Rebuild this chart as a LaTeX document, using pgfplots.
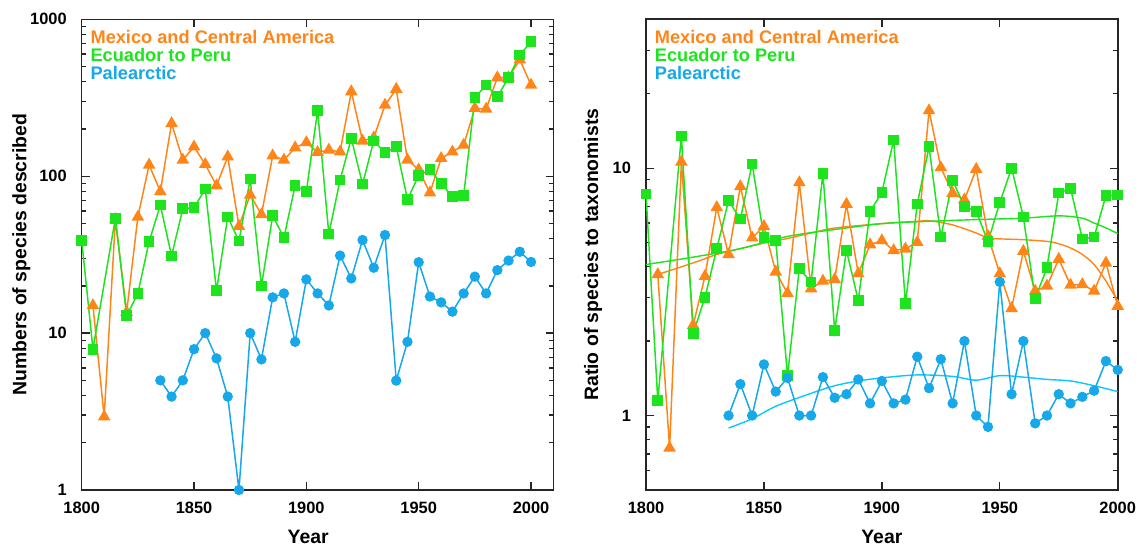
\documentclass[border=0pt]{standalone}
\usepackage{fontspec}
\setmainfont{Liberation Sans}
\usepackage{pgfplots}
\usepackage{pgfplotstable}
\pgfplotsset{compat=1.18}

\definecolor{mexorange}{RGB}{255,133,25}
\definecolor{ecugreen}{RGB}{30,228,30}
\definecolor{palblue}{RGB}{22,168,232}
\definecolor{trendblue}{RGB}{10,200,250}

% left panel: species described per 5-year interval
\pgfplotstableread{
year  n
1805  15
1810  2.93
1815  53
1820  13.6
1825  55
1830  118
1835  80
1840  217
1845  127
1850  154
1855  119
1860  87
1865  133
1870  48
1875  76
1880  57
1885  135
1890  127
1895  152
1900  164
1905  142
1910  147
1915  143
1920  346
1925  168
1930  176
1935  284
1940  359
1945  127
1950  110
1955  78.5
1960  130
1965  143
1970  158
1975  271
1980  268
1985  425
1990  425
1995  553
2000  381
}\mexcount
\pgfplotstableread{
year  n
1800  39
1805  7.9
1815  54
1820  12.9
1825  17.9
1830  38.3
1835  65.5
1840  31
1845  62
1850  63
1855  83
1860  18.6
1865  55
1870  38.6
1875  96
1880  20
1885  56
1890  40.6
1895  87
1900  80
1905  262
1910  42.8
1915  94.6
1920  174
1925  89
1930  168
1935  141
1940  154
1945  71.2
1950  101
1955  110
1960  90
1965  74
1970  75
1975  317
1980  381
1985  321
1990  425
1995  592
2000  720
}\ecucount
\pgfplotstableread{
year  n
1835  5.0
1840  3.94
1845  5.0
1850  7.9
1855  10
1860  6.9
1865  3.94
1870  1
1875  10
1880  6.8
1885  16.9
1890  17.9
1895  8.8
1900  22
1905  17.9
1910  15
1915  31.2
1920  22.3
1925  39.2
1930  26.1
1935  42.2
1940  4.98
1945  8.8
1950  28.3
1955  17.1
1960  15.7
1965  13.7
1970  17.9
1975  22.9
1980  17.9
1985  25.2
1990  29
1995  33
2000  28.4
}\palcount

% right panel: ratio of species to taxonomists
\pgfplotstableread{
year  r
1805  3.72
1810  0.74
1815  10.6
1820  2.32
1825  3.66
1830  6.94
1835  4.48
1840  8.44
1845  5.23
1850  5.82
1855  3.81
1860  3.12
1865  8.75
1870  3.26
1875  3.5
1880  3.55
1885  7.16
1890  3.75
1895  4.91
1900  5.1
1905  4.65
1910  4.72
1915  5.02
1920  17.1
1925  10.06
1930  7.93
1935  7.46
1940  9.9
1945  5.31
1950  3.75
1955  2.71
1960  4.62
1965  3.19
1970  3.34
1975  4.29
1980  3.37
1985  3.39
1990  3.19
1995  4.14
2000  2.77
}\mexratio
\pgfplotstableread{
year  r
1800  7.86
1805  1.15
1815  13.5
1820  2.15
1825  3.0
1830  4.73
1835  7.39
1840  6.23
1845  10.4
1850  5.26
1855  5.1
1860  1.45
1865  3.92
1870  3.47
1875  9.55
1880  2.21
1885  4.65
1890  2.92
1895  6.69
1900  7.98
1905  13.0
1910  2.83
1915  7.16
1920  12.2
1925  5.27
1930  8.92
1935  7.01
1940  6.69
1945  5.04
1950  7.27
1955  10.0
1960  6.35
1965  2.97
1970  3.96
1975  7.93
1980  8.3
1985  5.18
1990  5.27
1995  7.74
2000  7.8
}\ecuratio
\pgfplotstableread{
year  r
1835  1.0
1840  1.34
1845  1.0
1850  1.61
1855  1.25
1860  1.42
1865  1.0
1870  1.0
1875  1.43
1880  1.18
1885  1.22
1890  1.40
1895  1.12
1900  1.38
1905  1.12
1910  1.16
1915  1.73
1920  1.29
1925  1.69
1930  1.12
1935  2.0
1940  1.0
1945  0.90
1950  3.47
1955  1.22
1960  2.0
1965  0.93
1970  1.0
1975  1.22
1980  1.12
1985  1.19
1990  1.26
1995  1.66
2000  1.53
}\palratio

% smoothed trends (right panel)
\pgfplotstableread{
year  r
1805  3.72
1820  4.14
1830  4.48
1840  4.73
1850  4.98
1860  5.2
1870  5.47
1880  5.73
1900  5.97
1915  6.1
1920  6.13
1930  5.9
1940  5.47
1945  5.22
1950  5.18
1960  5.14
1970  5.06
1975  4.95
1980  4.76
1985  4.48
1990  4.08
1995  3.5
2000  2.9
}\mextrend
\pgfplotstableread{
year  r
1800  4.08
1820  4.37
1840  4.73
1860  5.3
1880  5.65
1900  5.97
1920  6.1
1940  6.2
1960  6.28
1975  6.42
1985  6.28
1990  6.0
1995  5.74
2000  5.44
}\ecutrend
\pgfplotstableread{
year  r
1835  0.89
1845  0.97
1855  1.09
1870  1.23
1880  1.32
1890  1.38
1900  1.42
1915  1.46
1930  1.44
1940  1.39
1950  1.45
1960  1.43
1970  1.40
1980  1.38
1990  1.32
2000  1.25
}\paltrend

\pgfplotsset{
  mypanel/.style={
    scale only axis,
    height=235.35pt,
    xtick={1800,1850,...,2000},
    tick align=inside,
    major tick length=4pt,
    minor tick length=2.2pt,
    axis line style={line width=0.8pt, black!85},
    every tick/.style={line width=0.7pt, black!85},
    /pgf/number format/1000 sep={},
    /pgf/number format/assume math mode=true,
    tick label style={font=\bfseries\fontsize{8.2}{9}\selectfont},
    xticklabel style={yshift=-2.6pt},
    yticklabel style={xshift=-4pt},
    label style={font=\bfseries\fontsize{9.7}{11}\selectfont},
    xlabel={Year},
    clip=false,
  },
  mexline/.style={mexorange, line width=0.75pt, mark=triangle*, mark size=2.9pt, mark options={solid}},
  eculine/.style={ecugreen, line width=0.75pt, mark=square*, mark size=2.3pt, mark options={solid}},
  palline/.style={palblue, line width=0.75pt, mark=*, mark size=2.2pt, mark options={solid}},
}

\newcommand{\panellegend}{%
  \node[anchor=north west, align=left, inner sep=0pt,
        font=\bfseries\fontsize{9.1}{9}\selectfont]
    at (axis description cs:0.018,0.978)
    {\textcolor{mexorange}{Mexico and Central America}\\
     \textcolor{ecugreen}{Ecuador to Peru}\\
     \textcolor{palblue}{Palearctic}};}

\begin{document}
\begin{tikzpicture}
\path[use as bounding box] (-40.85pt,-28pt) rectangle (528.65pt,245pt);

\begin{axis}[mypanel,
  ymode=log,
  at={(0,0)}, anchor=south west,
  width=235.9pt,
  xmin=1800, xmax=2010,
  ymin=1, ymax=1000,
  ytick={1,10,100,1000}, yticklabels={1,10,100,1000},
  minor ytick={2,3,4,5,6,7,8,9,20,30,40,50,60,70,80,90,200,300,400,500,600,700,800,900},
  ylabel={Numbers of species described},
  ylabel style={at={(axis description cs:-0.128,0.5)}, anchor=center},
  xlabel style={at={(axis description cs:0.48,0)}, anchor=center, yshift=-23.5pt},
]
\addplot[mexline] table[x=year, y=n] {\mexcount};
\addplot[eculine] table[x=year, y=n] {\ecucount};
\addplot[palline] table[x=year, y=n] {\palcount};
\panellegend
\end{axis}

\begin{axis}[mypanel,
  ymode=log,
  at={(282.15pt,0)}, anchor=south west,
  width=235.85pt,
  xmin=1800, xmax=2000,
  ymin=0.5, ymax=40,
  ytick={1,10}, yticklabels={1,10},
  minor ytick={0.6,0.7,0.8,0.9,2,3,4,5,6,7,8,9,20,30},
  ylabel={Ratio of species to taxonomists},
  ylabel style={at={(axis description cs:-0.112,0.5)}, anchor=center},
  xlabel style={at={(axis description cs:0.5,0)}, anchor=center, yshift=-23.5pt},
]
\addplot[mexorange, line width=0.7pt, smooth] table[x=year, y=r] {\mextrend};
\addplot[ecugreen, line width=0.7pt, smooth] table[x=year, y=r] {\ecutrend};
\addplot[trendblue, line width=0.7pt, smooth] table[x=year, y=r] {\paltrend};
\addplot[mexline] table[x=year, y=r] {\mexratio};
\addplot[eculine] table[x=year, y=r] {\ecuratio};
\addplot[palline] table[x=year, y=r] {\palratio};
\panellegend
\end{axis}
\end{tikzpicture}
\end{document}
